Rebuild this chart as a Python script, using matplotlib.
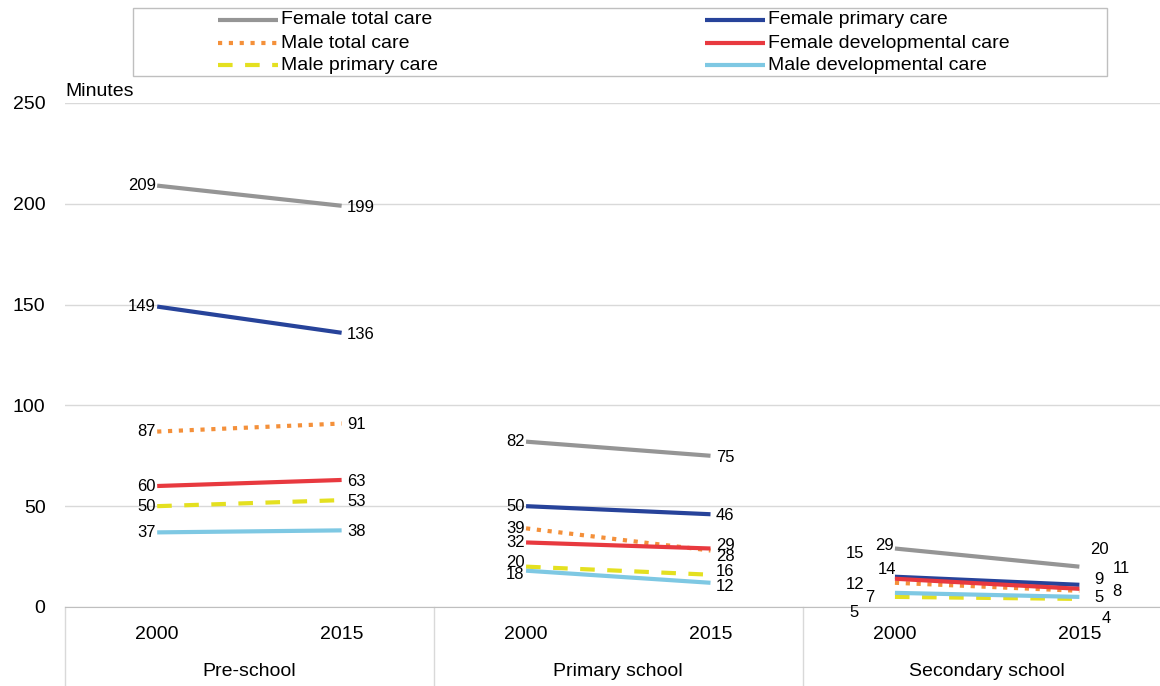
import numpy as np
from matplotlib import pyplot as plt
from matplotlib.lines import Line2D
from matplotlib.patches import Rectangle

plt.rcParams['font.family'] = ['Liberation Sans', 'DejaVu Sans']

groups = ["Pre-school", "Primary school", "Secondary school"]
years = ["2000", "2015"]

female_total = [209, 199, 82, 75, 29, 20]
female_primary = [149, 136, 50, 46, 15, 11]
male_total = [87, 91, 39, 28, 12, 8]
female_dev = [60, 63, 32, 29, 14, 9]
male_primary = [50, 53, 20, 16, 5, 4]
male_dev = [37, 38, 18, 12, 7, 5]

series = [
    ("Female total care", female_total, "#959595", "-"),
    ("Female primary care", female_primary, "#27439a", "-"),
    ("Male total care", male_total, "#f4903a", (0, (1, 1.6))),
    ("Female developmental care", female_dev, "#e8393f", "-"),
    ("Male primary care", male_primary, "#e4e020", (0, (3.5, 3))),
    ("Male developmental care", male_dev, "#7ec8e3", "-"),
]

# hand placed label offsets (points) where labels crowd
left_off = {
    (1, "Male primary care"): (-1, 3),
    (1, "Male developmental care"): (-1, -3),
    (2, "Female total care"): (-1, 2.5),
    (2, "Female primary care"): (-22, 17),
    (2, "Female developmental care"): (1, 6.5),
    (2, "Male total care"): (-22, -1.5),
    (2, "Male developmental care"): (-15, -3),
    (2, "Male primary care"): (-26, -11.5),
}
right_off = {
    (1, "Male total care"): (4, -4),
    (1, "Female developmental care"): (4, 2),
    (1, "Male primary care"): (4, 2.5),
    (1, "Male developmental care"): (4, -3),
    (2, "Female total care"): (8, 12),
    (2, "Female primary care"): (24, 11.5),
    (2, "Female developmental care"): (11, 6.5),
    (2, "Male total care"): (24, -0.7),
    (2, "Male developmental care"): (11, -0.7),
    (2, "Male primary care"): (16, -14),
}

fig = plt.figure(figsize=(11.6, 6.86), dpi=100)
ax = fig.add_axes([0.056, 0.1152, 0.954, 0.7347])

xs = [(g * 2 + 0.5, g * 2 + 1.5) for g in range(3)]

handles = {}
for name, vals, col, ls in series:
    for g in range(3):
        x0, x1 = xs[g]
        v0, v1 = vals[2 * g], vals[2 * g + 1]
        ax.plot([x0, x1], [v0, v1], color=col, lw=3, ls=ls,
                solid_capstyle='butt', zorder=3)
        off0 = left_off.get((g, name), (-1, 0))
        off1 = right_off.get((g, name), (4, -1))
        ax.annotate(str(v0), (x0, v0), xytext=off0, textcoords='offset points',
                    ha='right', va='center', fontsize=12, zorder=4)
        ax.annotate(str(v1), (x1, v1), xytext=off1, textcoords='offset points',
                    ha='left', va='center', fontsize=12, zorder=4)
    handles[name] = (col, ls)

ax.set_xlim(0, 6)
ax.set_ylim(0, 250)
ax.set_yticks(np.arange(0, 251, 50))
ax.tick_params(axis='y', length=0, labelsize=14, pad=14)
ax.set_xticks([])
ax.grid(axis='y', color='#d9d9d9', lw=1)
ax.set_axisbelow(True)
for s in ['top', 'right', 'left']:
    ax.spines[s].set_visible(False)
ax.spines['bottom'].set_color('#bfbfbf')

trans = ax.get_xaxis_transform()
for g in range(3):
    for i, yr in enumerate(years):
        ax.text(xs[g][i], -0.054, yr, transform=trans, ha='center',
                va='center', fontsize=14)
    ax.text(g * 2 + 1, -0.129, groups[g], transform=trans, ha='center',
            va='center', fontsize=14)
for b in range(4):
    ax.add_line(Line2D([b * 2, b * 2], [0, -0.2], transform=trans,
                       color='#d9d9d9', lw=1, clip_on=False))

ax.text(0.0, 1.005, "Minutes", transform=ax.transAxes, ha='left',
        va='bottom', fontsize=14)

# legend box drawn in figure pixels
W, H = 1160.0, 686.0
fig.patches.append(Rectangle((133 / W, 1 - 76 / H), (1107 - 133) / W,
                             68 / H, transform=fig.transFigure, fill=False,
                             edgecolor='#bfbfbf', lw=1))
legend_cols = [
    (218, ["Female total care", "Male total care", "Male primary care"]),
    (705, ["Female primary care", "Female developmental care",
           "Male developmental care"]),
]
row_y = [20, 43, 65]
for hx, names in legend_cols:
    for ry, name in zip(row_y, names):
        col, ls = handles[name]
        y = 1 - ry / H
        fig.lines.append(Line2D([hx / W, (hx + 60) / W], [y, y],
                                transform=fig.transFigure, color=col, lw=3,
                                ls=ls, solid_capstyle='butt'))
        fig.text((hx + 63) / W, y, name, ha='left', va='center', fontsize=14)

fig.savefig("out.png", dpi=100)
